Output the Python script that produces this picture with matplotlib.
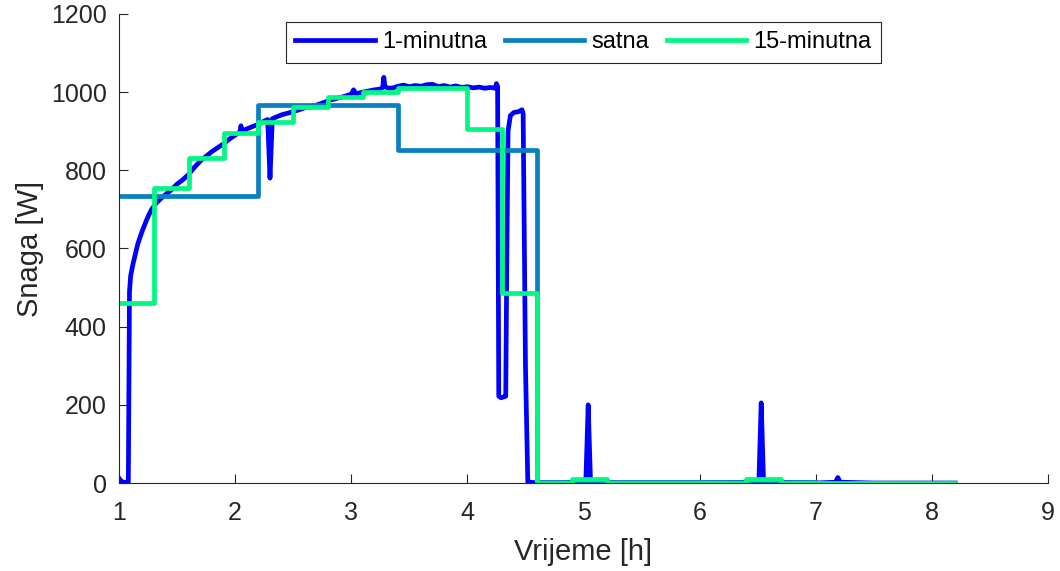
import numpy as np
import matplotlib
matplotlib.use('Agg')
import matplotlib.pyplot as plt

plt.rcParams['font.family'] = ['Liberation Sans', 'DejaVu Sans']

# 1-minute power (time [h], power [W])
minute_t = [1.00, 1.02, 1.04, 1.06, 1.08, 1.09, 1.10, 1.12, 1.14, 1.16, 1.18, 1.20,
            1.22, 1.24, 1.26, 1.28, 1.30, 1.32, 1.35, 1.40, 1.45, 1.50, 1.55, 1.60,
            1.65, 1.70, 1.75, 1.80, 1.85, 1.90, 1.95, 2.00, 2.04, 2.05, 2.06, 2.10,
            2.15, 2.20, 2.25, 2.28, 2.30, 2.32, 2.35, 2.40, 2.45, 2.50, 2.55, 2.60,
            2.65, 2.70, 2.75, 2.80, 2.85, 2.90, 2.95, 3.00, 3.02, 3.04, 3.10, 3.15,
            3.20, 3.25, 3.27, 3.28, 3.29, 3.32, 3.36, 3.40, 3.45, 3.50, 3.55, 3.60,
            3.65, 3.70, 3.75, 3.80, 3.85, 3.90, 3.95, 4.00, 4.05, 4.10, 4.15, 4.20,
            4.24, 4.25, 4.26, 4.27, 4.29, 4.31, 4.33, 4.34, 4.35, 4.37, 4.40, 4.44,
            4.47, 4.48, 4.50, 4.52, 4.60, 4.80, 5.00, 5.02, 5.04, 5.06, 5.08, 5.20,
            6.00, 6.48, 6.51, 6.53, 6.55, 6.58, 7.00, 7.17, 7.19, 7.21, 7.50, 8.20]
minute_p = [12, 4, 2, 2, 3, 490, 530, 560, 585, 610, 628, 645,
            660, 675, 688, 700, 708, 716, 725, 738, 750, 765, 776, 790,
            808, 824, 836, 848, 858, 868, 880, 890, 898, 914, 900, 906,
            912, 918, 926, 930, 780, 932, 936, 942, 946, 950, 955, 960,
            963, 967, 972, 978, 982, 986, 990, 995, 1006, 996, 1000, 1003,
            1006, 1008, 1012, 1038, 1014, 1010, 1011, 1015, 1018, 1014, 1017, 1015,
            1019, 1020, 1014, 1017, 1013, 1016, 1012, 1014, 1011, 1013, 1010, 1012,
            1010, 1022, 1015, 222, 218, 220, 222, 600, 900, 940, 948, 950,
            955, 945, 300, 3, 0, 0, 2, 5, 200, 5, 2, 0,
            0, 2, 5, 205, 5, 2, 0, 2, 14, 2, 0, 0]

# hourly averages
hour_edges = [1.0, 2.2, 3.4, 4.6, 5.8, 7.0, 8.2]
hour_p = [735, 968, 853, 3, 3, 1]

# 15-minute averages
quarter_edges = [1.0, 1.3, 1.6, 1.9, 2.2, 2.5, 2.8, 3.1, 3.4, 3.7, 4.0, 4.3, 4.6,
                 4.9, 5.2, 5.5, 5.8, 6.1, 6.4, 6.7, 7.0, 7.3, 7.6, 7.9, 8.2]
quarter_p = [461, 754, 832, 895, 924, 963, 987, 1001, 1010, 1010, 906, 485,
             0, 10, 0, 0, 0, 0, 10, 0, 0, 0, 0, 0]

fig = plt.figure(figsize=(10.6, 5.71), dpi=100)
ax = fig.add_axes([0.1123, 0.1541, 0.8764, 0.8214])

lw = 3.4
ax.plot(minute_t, minute_p, color='#0000ff', lw=lw, label='1-minutna')
ax.step(hour_edges, hour_p + [hour_p[-1]], where='post', color='#0a80c0', lw=lw, label='satna')
ax.step(quarter_edges, quarter_p + [quarter_p[-1]], where='post', color='#00f882', lw=lw, label='15-minutna')

ax.set_xlim(1, 9)
ax.set_ylim(0, 1200)
ax.set_xticks(range(1, 10))
ax.set_yticks(range(0, 1201, 200))

for s in ['top', 'right']:
    ax.spines[s].set_visible(False)
for s in ['left', 'bottom']:
    ax.spines[s].set_color('#262626')
    ax.spines[s].set_linewidth(0.8)
ax.tick_params(direction='in', length=6.5, width=0.8, color='#262626',
               labelsize=18, labelcolor='#262626')
ax.tick_params(axis='x', pad=13)
ax.tick_params(axis='y', pad=9)

ax.set_xlabel('Vrijeme [h]', fontsize=21, color='#262626', labelpad=9)
ax.set_ylabel('Snaga [W]', fontsize=21, color='#262626', labelpad=5)

leg = ax.legend(loc='upper center', bbox_to_anchor=(0.5, 0.983), ncol=3, fontsize=17,
                handlelength=3.35, handletextpad=0.32, columnspacing=0.75,
                borderpad=0.4, borderaxespad=0, fancybox=False, framealpha=1)
leg.get_frame().set_edgecolor('#262626')
leg.get_frame().set_linewidth(0.8)

fig.savefig('out.png', dpi=100)
